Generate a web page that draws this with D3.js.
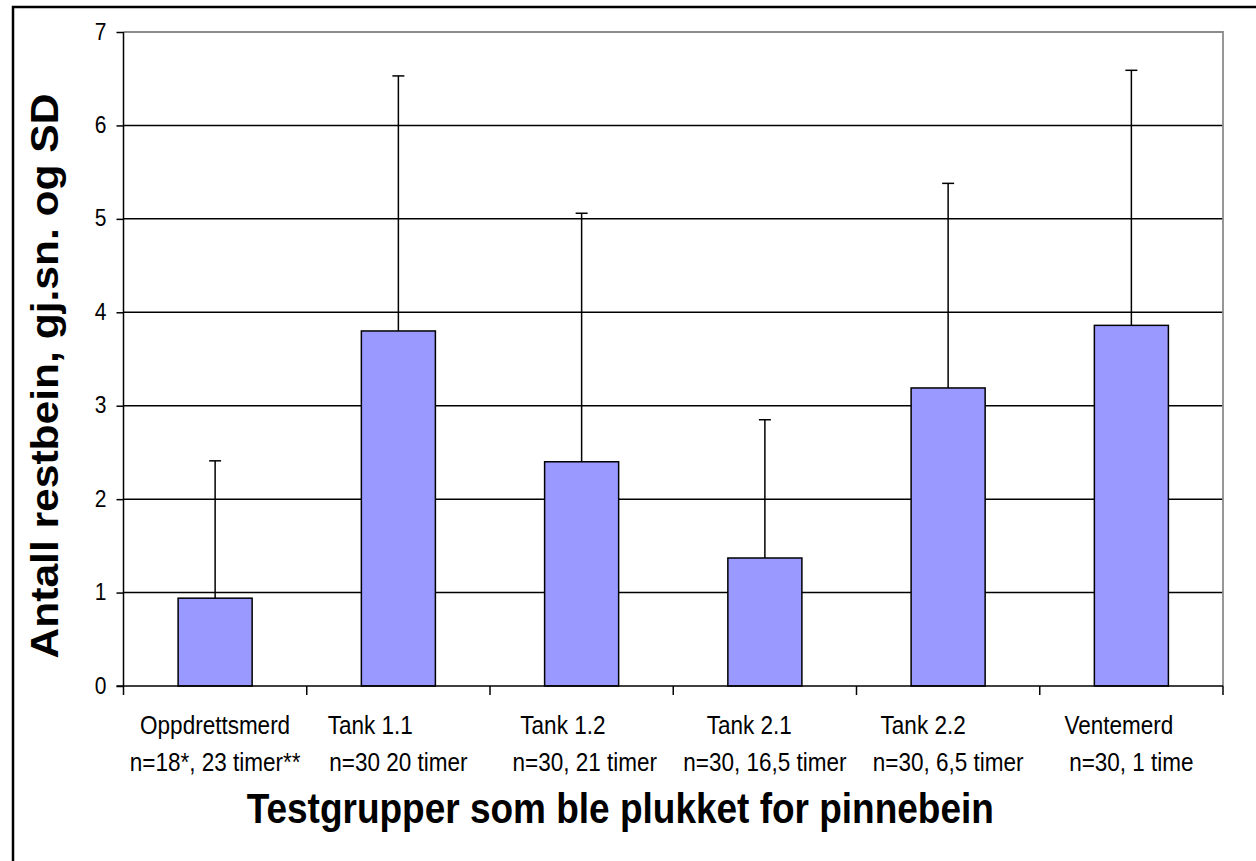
<!DOCTYPE html>
<html>
<head>
<meta charset="utf-8">
<script src="https://cdn.jsdelivr.net/npm/d3@7/dist/d3.min.js"></script>
<style>
  html, body { margin: 0; padding: 0; background: #ffffff; }
  svg { display: block; }
  text { font-family: "Liberation Sans", Arial, Helvetica, sans-serif; white-space: pre; }
</style>
</head>
<body>
<svg id="chart" width="1256" height="861"></svg>
<script>
// ---- data ----
const categories = ["Oppdrettsmerd", "Tank 1.1", "Tank 1.2", "Tank 2.1", "Tank 2.2", "Ventemerd"];
const labelLine1 = ["Oppdrettsmerd", "Tank 1.1         ", "Tank 1.2      ", "Tank 2.1     ", "Tank 2.2        ", "Ventemerd    "];
const labelLine2 = ["n=18*, 23 timer**", "n=30 20 timer", " n=30, 21 timer", "n=30, 16,5 timer", "n=30, 6,5 timer", "n=30, 1 time"];
const means = [0.94, 3.80, 2.40, 1.37, 3.19, 3.86];
const sds = [1.47, 2.73, 2.66, 1.48, 2.19, 2.73];
const yTicks = [0, 1, 2, 3, 4, 5, 6, 7];
const yTitle = "Antall restbein, gj.sn. og SD";
const xTitle = "Testgrupper som ble plukket for pinnebein";

// ---- layout ----
const W = 1256, H = 861;
const plot = { left: 123.5, right: 1223, top: 32, bottom: 686 };
const stretch = 1.16; // text in the original is drawn vertically stretched
const svg = d3.select("#chart");

svg.append("rect").attr("x", 0).attr("y", 0).attr("width", W).attr("height", H).attr("fill", "#ffffff");

// outer frame (top + left visible)
svg.append("path")
  .attr("d", `M13,${H + 5} L13,7 L${W + 5},7`)
  .attr("fill", "none").attr("stroke", "#000").attr("stroke-width", 2.5);

const x = d3.scaleBand().domain(categories).range([plot.left, plot.right])
  .paddingInner(0.596).paddingOuter(0.298);
const step = x.step();
const y = d3.scaleLinear().domain([0, 7]).range([plot.bottom, plot.top]);

// gridlines
svg.append("g").selectAll("line").data(yTicks.filter(t => t > 0 && t < 7)).join("line")
  .attr("x1", plot.left).attr("x2", plot.right)
  .attr("y1", d => y(d)).attr("y2", d => y(d))
  .attr("stroke", "#000").attr("stroke-width", 1.5);

// plot border (top & right, gray)
svg.append("path")
  .attr("d", `M${plot.left},${y(7)} L${plot.right},${y(7)} L${plot.right},${y(0)}`)
  .attr("fill", "none").attr("stroke", "#8c8c8c").attr("stroke-width", 1.8);

// bars
svg.append("g").selectAll("rect").data(categories).join("rect")
  .attr("x", d => x(d))
  .attr("width", x.bandwidth())
  .attr("y", (d, i) => y(means[i]))
  .attr("height", (d, i) => y(0) - y(means[i]))
  .attr("fill", "#9999ff").attr("stroke", "#000").attr("stroke-width", 1.5);

// error bars (plus direction)
const eb = svg.append("g").attr("stroke", "#000").attr("stroke-width", 1.5);
categories.forEach((c, i) => {
  const cx = x(c) + x.bandwidth() / 2;
  eb.append("line").attr("x1", cx).attr("x2", cx)
    .attr("y1", y(means[i])).attr("y2", y(means[i] + sds[i]));
  eb.append("line").attr("x1", cx - 6).attr("x2", cx + 6)
    .attr("y1", y(means[i] + sds[i])).attr("y2", y(means[i] + sds[i]));
});

// y axis (ticks via d3 axis, labels drawn stretched)
const yAxis = d3.axisLeft(y).tickValues(yTicks).tickSize(7).tickFormat("");
const gy = svg.append("g").attr("transform", `translate(${plot.left},0)`).call(yAxis);
gy.select(".domain").remove();
gy.selectAll(".tick line").attr("stroke", "#000").attr("stroke-width", 1.5);
svg.append("g").selectAll("text").data(yTicks).join("text")
  .attr("transform", d => `translate(${plot.left - 17},${y(d) + 7.5}) scale(1,${stretch})`)
  .attr("text-anchor", "end").attr("font-size", 21).attr("fill", "#000")
  .text(d => d3.format("d")(d));
svg.append("line").attr("x1", plot.left).attr("x2", plot.left)
  .attr("y1", y(7)).attr("y2", y(0) + 9)
  .attr("stroke", "#000").attr("stroke-width", 1.5);

// x axis line + ticks at band boundaries
svg.append("line").attr("x1", plot.left - 7).attr("x2", plot.right)
  .attr("y1", y(0)).attr("y2", y(0)).attr("stroke", "#000").attr("stroke-width", 1.5);
const boundaries = d3.range(categories.length + 1).map(i => plot.left + i * step);
svg.append("g").selectAll("line").data(boundaries.slice(1)).join("line")
  .attr("x1", d => d).attr("x2", d => d)
  .attr("y1", y(0)).attr("y2", y(0) + 9)
  .attr("stroke", "#000").attr("stroke-width", 1.5);

// x labels
const gl = svg.append("g").attr("font-size", 22.5).attr("fill", "#000").attr("text-anchor", "middle");
categories.forEach((c, i) => {
  const cx = x(c) + x.bandwidth() / 2;
  gl.append("text").attr("transform", `translate(${cx},${y(0) + 48}) scale(1,${stretch})`).text(labelLine1[i]);
  gl.append("text").attr("transform", `translate(${cx},${y(0) + 85}) scale(1,${stretch})`).text(labelLine2[i]);
});

// axis titles
svg.append("text")
  .attr("transform", `translate(${(plot.left + plot.right) / 2 - 53},823) scale(1,${stretch})`)
  .attr("text-anchor", "middle").attr("font-size", 37).attr("font-weight", "bold")
  .text(xTitle);

svg.append("text")
  .attr("transform", `translate(58,${(plot.top + plot.bottom) / 2 + 17}) rotate(-90) scale(1.12,1)`)
  .attr("text-anchor", "middle").attr("font-size", 38).attr("font-weight", "bold")
  .text(yTitle);
</script>
</body>
</html>
